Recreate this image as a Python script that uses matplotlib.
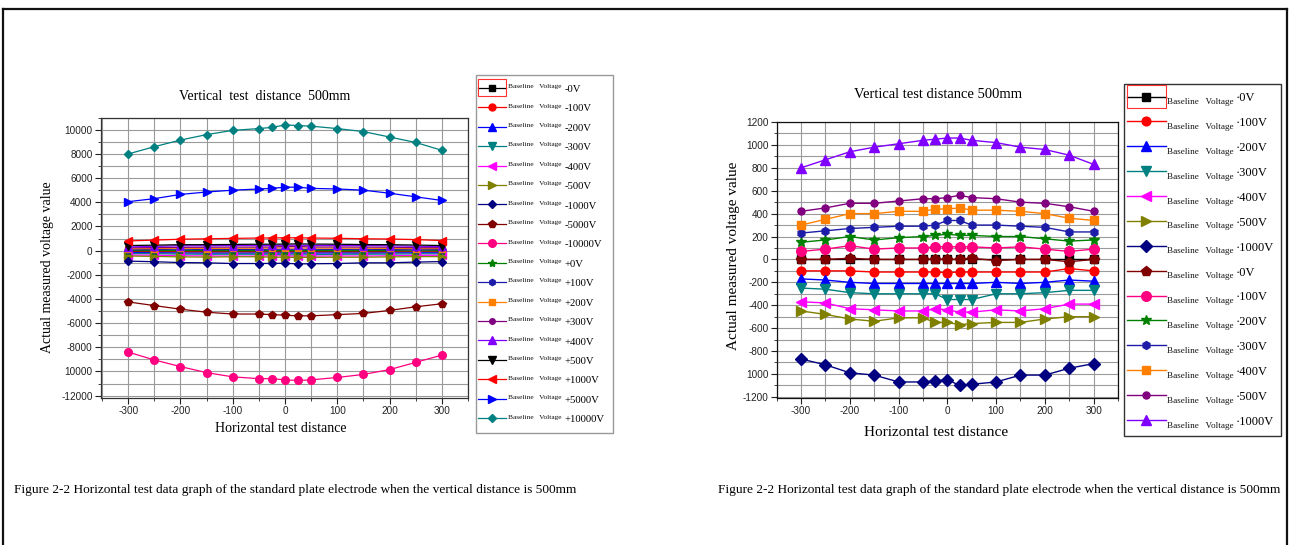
import numpy as np
import matplotlib
matplotlib.use("Agg")
import matplotlib.pyplot as plt
from matplotlib.ticker import MultipleLocator, FixedLocator, FixedFormatter
from matplotlib.legend_handler import HandlerLine2D
from matplotlib.text import Text
from matplotlib.lines import Line2D
from matplotlib.patches import Rectangle

# ---------------- data ----------------
x_pos = [-300, -250, -200, -150, -100, -50, -25, 0, 25, 50, 100, 150, 200, 250, 300]

neg0 = [0, 0, 0, 0, 0, 0, 0, 0, 0, 0, 0, 0, 0, 0, 0]
neg100 = [-100, -100, -100, -110, -110, -110, -110, -115, -110, -110, -110, -110, -110, -80, -100]
neg200 = [-170, -180, -200, -210, -210, -210, -210, -210, -210, -210, -200, -210, -200, -180, -190]
neg300 = [-250, -260, -290, -300, -300, -300, -300, -350, -350, -350, -300, -300, -290, -270, -270]
neg400 = [-370, -380, -430, -440, -450, -450, -430, -440, -460, -460, -440, -450, -430, -390, -390]
neg500 = [-450, -480, -520, -540, -510, -510, -550, -550, -570, -560, -550, -550, -520, -500, -500]
neg1000 = [-870, -920, -990, -1010, -1070, -1070, -1060, -1050, -1100, -1090, -1070, -1010, -1010, -950, -910]
neg5000 = [-4250, -4550, -4850, -5100, -5250, -5250, -5300, -5350, -5400, -5400, -5300, -5200, -4950, -4650, -4400]
neg10000 = [-8400, -9050, -9600, -10100, -10450, -10600, -10600, -10700, -10750, -10700, -10500, -10250, -9850, -9250, -8650]
pos0 = [0, 0, 10, 0, 0, 0, 0, 0, 0, 10, -10, 0, 0, -20, 0]
pos100 = [70, 90, 120, 90, 100, 100, 110, 110, 110, 110, 100, 110, 90, 70, 90]
pos200 = [150, 170, 200, 170, 190, 200, 210, 220, 210, 210, 200, 200, 180, 160, 170]
pos300 = [230, 250, 270, 280, 290, 290, 300, 340, 340, 300, 300, 290, 280, 240, 240]
pos400 = [300, 350, 400, 400, 420, 420, 440, 440, 450, 430, 430, 420, 400, 360, 340]
pos500 = [420, 450, 490, 490, 510, 530, 530, 540, 560, 540, 530, 500, 490, 460, 420]
pos1000 = [800, 870, 940, 980, 1010, 1040, 1050, 1060, 1060, 1040, 1020, 980, 960, 910, 830]
pos5000 = [4050, 4300, 4650, 4850, 5000, 5100, 5150, 5250, 5250, 5150, 5100, 5000, 4750, 4450, 4150]
pos10000 = [8000, 8600, 9150, 9600, 9950, 10100, 10200, 10400, 10350, 10300, 10100, 9850, 9400, 8950, 8300]

left_series = [neg0, neg100, neg200, neg300, neg400, neg500, neg1000, neg5000, neg10000,
               pos0, pos100, pos200, pos300, pos400, pos500, pos1000, pos5000, pos10000]
left_labels = ["-0V", "-100V", "-200V", "-300V", "-400V", "-500V", "-1000V", "-5000V", "-10000V",
               "+0V", "+100V", "+200V", "+300V", "+400V", "+500V", "+1000V", "+5000V", "+10000V"]

right_series = [neg0, neg100, neg200, neg300, neg400, neg500, neg1000,
                pos0, pos100, pos200, pos300, pos400, pos500, pos1000]
right_labels = ["\u00b70V", "\u00b7100V", "\u00b7200V", "\u00b7300V", "\u00b7400V", "\u00b7500V", "\u00b71000V",
                "\u00b70V", "\u00b7100V", "\u00b7200V", "\u00b7300V", "\u00b7400V", "\u00b7500V", "\u00b71000V"]

left_yticks = [10000, 8000, 6000, 4000, 2000, 0, -2000, -4000, -6000, -8000, -10000, -12000]
left_yticklabels = ["10000", "8000", "6000", "4000", "2000", "0", "-2000", "-4000", "-6000", "-8000", "10000", "-12000"]
right_yticks = [1200, 1000, 800, 600, 400, 200, 0, -200, -400, -600, -800, -1000, -1200]
right_yticklabels = ["1200", "1000", "800", "600", "400", "200", "0", "-200", "-400", "-600", "-800", "1000", "-1200"]
xticks = [-300, -200, -100, 0, 100, 200, 300]
xticklabels = ["-300", "-200", "-100", "0", "100", "200", "300"]

title_left = "Vertical  test  distance  500mm"
title_right = "Vertical test distance 500mm"
xlabel = "Horizontal test distance"
ylabel = "Actual measured voltage value"
legend_prefix = "Baseline   Voltage"
caption = "Figure 2-2 Horizontal test data graph of the standard plate electrode when the vertical distance is 500mm"

# styles (Origin-like order)
colors = ["#000000", "#FF0000", "#0000FF", "#008080", "#FF00FF", "#808000", "#000080", "#800000",
          "#FF0080", "#008000", "#1C1CA8", "#FF8000", "#800080", "#8000FF", "#000000", "#FF0000",
          "#0000FF", "#008080"]
markers = ["s", "o", "^", "v", "<", ">", "D", "p", "o", "*", "h", "s", "o", "^", "v", "<", ">", "D"]
msizes = [1.0, 1.0, 1.1, 1.1, 1.1, 1.1, 0.9, 1.1, 1.1, 1.2, 0.9, 1.0, 0.8, 1.1, 1.1, 1.1, 1.1, 0.9]

SERIF = "Liberation Serif"
SANS = "Liberation Sans"

W, H = 1291, 545
fig = plt.figure(figsize=(W / 100, H / 100), dpi=100)
fig.patch.set_facecolor("white")


def fx(px):
    return px / W


def fy(py):
    return 1 - py / H


class HandlerBaseline(HandlerLine2D):
    """Line + marker sample followed by a small 'Baseline Voltage' caption."""

    def __init__(self, line_frac, tsize, tdy, shift, first, box_h, **kw):
        super().__init__(**kw)
        self.line_frac = line_frac
        self.tsize = tsize
        self.tdy = tdy
        self.shift = shift
        self.first = first
        self.box_h = box_h

    def create_artists(self, legend, orig_handle, xdescent, ydescent, width, height, fontsize, trans):
        lw = width * self.line_frac
        arts = super().create_artists(legend, orig_handle, xdescent, ydescent, lw + self.shift,
                                      height, fontsize, trans)
        for a in arts:
            if isinstance(a, Line2D):
                a.set_xdata(np.asarray(a.get_xdata(), dtype=float) - self.shift)
        ymid = (height - ydescent) / 2
        t = Text(lw - xdescent + 1.0, ymid + self.tdy, legend_prefix,
                 fontsize=self.tsize, family=SERIF, va="center", ha="left", color="#111111")
        t.set_transform(trans)
        arts.append(t)
        if orig_handle is self.first:
            r = Rectangle((-xdescent - self.shift, ymid - self.box_h / 2), lw + self.shift, self.box_h,
                          fill=False, ec="#ff3030", lw=0.8)
            r.set_transform(trans)
            arts.append(r)
        return arts


def setup_axes(ax, xlim, ylim, yticks, ylabels, yminor):
    ax.set_xlim(*xlim)
    ax.set_ylim(*ylim)
    ax.xaxis.set_major_locator(FixedLocator(xticks))
    ax.xaxis.set_major_formatter(FixedFormatter(xticklabels))
    ax.xaxis.set_minor_locator(MultipleLocator(50))
    ax.yaxis.set_major_locator(FixedLocator(yticks))
    ax.yaxis.set_major_formatter(FixedFormatter(ylabels))
    ax.yaxis.set_minor_locator(MultipleLocator(yminor))
    ax.grid(True, which="both", color="#9a9a9a", lw=0.8)
    ax.set_axisbelow(True)
    ax.tick_params(which="both", direction="out", top=False, right=False, colors="#222222")
    ax.tick_params(which="major", length=4, width=0.8, labelsize=7.2, pad=2)
    ax.tick_params(which="minor", length=2.5, width=0.6)
    for lab in ax.get_xticklabels() + ax.get_yticklabels():
        lab.set_family(SANS)
    for s in ax.spines.values():
        s.set_color("#333333")
        s.set_linewidth(0.9)


# ---------------- left chart ----------------
axL = fig.add_axes([fx(101), fy(398), fx(468 - 101), (398 - 117.7) / H])
handlesL = []
for i, ys in enumerate(left_series):
    (ln,) = axL.plot(x_pos, ys, color=colors[i], marker=markers[i], ms=5.0 * msizes[i], lw=0.9,
                     mec=colors[i], label=left_labels[i])
    handlesL.append(ln)
setup_axes(axL, (-352, 350), (-12200, 11000), left_yticks, left_yticklabels, 1000)

legL = fig.legend(handles=handlesL, labels=left_labels, loc="upper left",
                  bbox_to_anchor=(fx(476), fy(75)), bbox_transform=fig.transFigure,
                  prop={"family": SERIF, "size": 7.7}, frameon=True, fancybox=False,
                  edgecolor="#999999", framealpha=1, borderpad=0.8, labelspacing=0.84,
                  handlelength=7.3, handleheight=1.0, handletextpad=0.2, borderaxespad=0,
                  numpoints=1,
                  handler_map={Line2D: HandlerBaseline(0.28, 5.3, 0.8, 5.0, handlesL[0], 12.5)})
legL.get_frame().set_linewidth(1.0)

fig.text(fx(265), fy(96), title_left, family=SERIF, fontsize=10, ha="center", va="center")
fig.text(fx(281), fy(428), xlabel, family=SERIF, fontsize=10, ha="center", va="center")
fig.text(fx(47), fy(267), ylabel, family=SERIF, fontsize=10, ha="center", va="center", rotation=90)

# ---------------- right chart ----------------
axR = fig.add_axes([fx(776.7), fy(398), fx(1118 - 776.7), (398 - 122) / H])
handlesR = []
for i, ys in enumerate(right_series):
    (ln,) = axR.plot(x_pos, ys, color=colors[i], marker=markers[i], ms=6.3 * msizes[i], lw=1.0,
                     mec=colors[i], label=right_labels[i])
    handlesR.append(ln)
setup_axes(axR, (-350, 350), (-1210, 1200), right_yticks, right_yticklabels, 100)
for s in axR.spines.values():
    s.set_color("#111111")

legR = fig.legend(handles=handlesR, labels=right_labels, loc="upper left",
                  bbox_to_anchor=(fx(1124), fy(84)), bbox_transform=fig.transFigure,
                  prop={"family": SERIF, "size": 8.9}, frameon=True, fancybox=False,
                  edgecolor="#333333", framealpha=1, borderpad=0.62, labelspacing=0.98,
                  handlelength=8.2, handleheight=1.0, handletextpad=0.2, borderaxespad=0,
                  numpoints=1,
                  handler_map={Line2D: HandlerBaseline(0.336, 6.6, -4.0, 3.4, handlesR[0], 16.0)})
legR.get_frame().set_linewidth(1.0)

fig.text(fx(938), fy(94), title_right, family=SERIF, fontsize=10.5, ha="center", va="center")
fig.text(fx(936), fy(432), xlabel, family=SERIF, fontsize=11, ha="center", va="center")
fig.text(fx(734), fy(256), ylabel, family=SERIF, fontsize=11, ha="center", va="center", rotation=90)

# captions
fig.text(fx(14), fy(490), caption, family=SERIF, fontsize=9.6, ha="left", va="center")
fig.text(fx(718), fy(490), caption, family=SERIF, fontsize=9.6, ha="left", va="center")

# page border
for (xa, ya, xb, yb) in [(3, 8.5, 1287, 8.5), (3.5, 8.5, 3.5, 545), (1286.5, 8.5, 1286.5, 545)]:
    fig.add_artist(Line2D([fx(xa), fx(xb)], [fy(ya), fy(yb)], transform=fig.transFigure,
                          color="#111111", lw=1.6))

fig.savefig("out.png", dpi=100, facecolor="white")
